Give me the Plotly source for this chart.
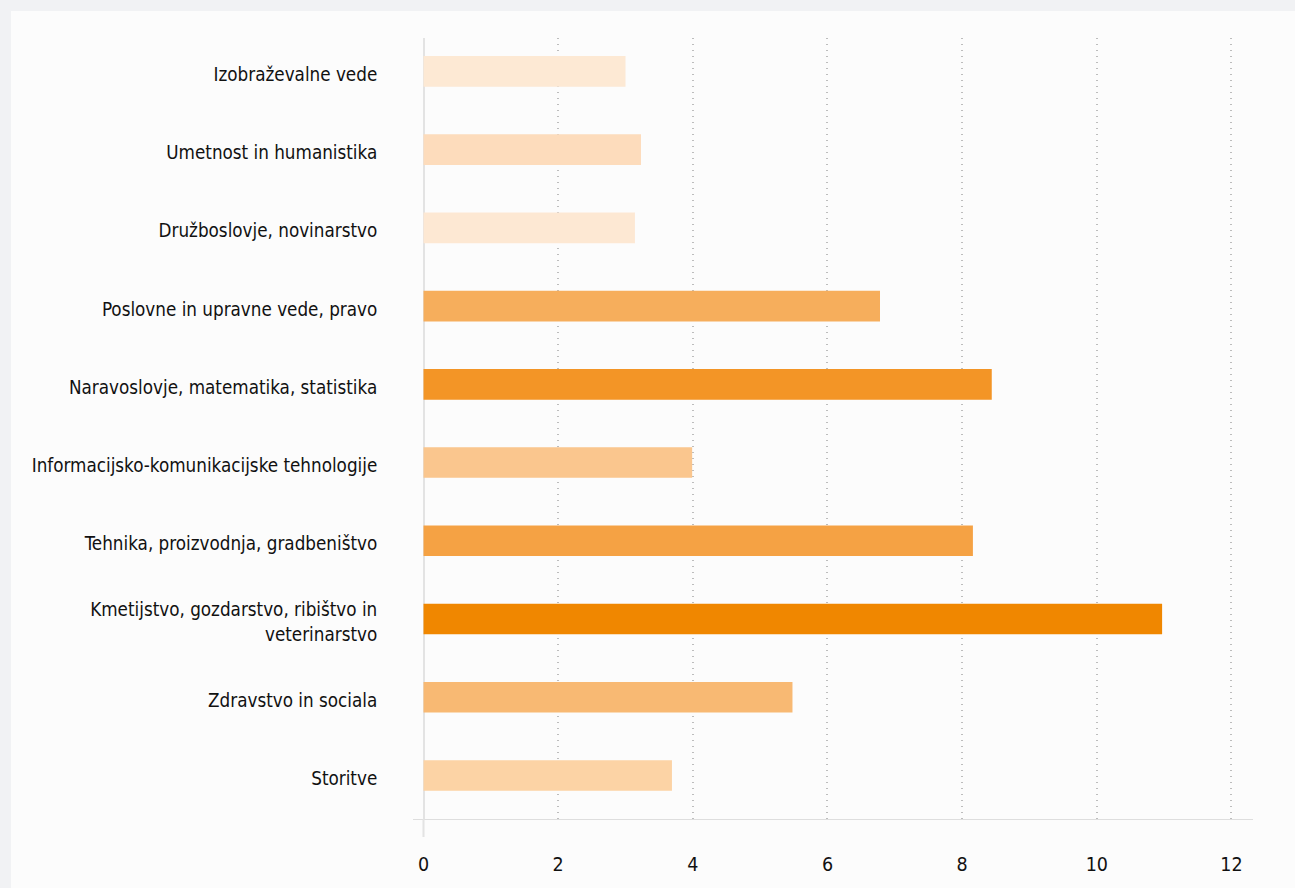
import plotly.graph_objects as go

categories = [
    "Izobraževalne vede",
    "Umetnost in humanistika",
    "Družboslovje, novinarstvo",
    "Poslovne in upravne vede, pravo",
    "Naravoslovje, matematika, statistika",
    "Informacijsko-komunikacijske tehnologije",
    "Tehnika, proizvodnja, gradbeništvo",
    "Kmetijstvo, gozdarstvo, ribištvo in<br>veterinarstvo",
    "Zdravstvo in sociala",
    "Storitve",
]
values = [3.0, 3.23, 3.14, 6.78, 8.44, 3.99, 8.16, 10.97, 5.48, 3.69]
x_ticks = [0, 2, 4, 6, 8, 10, 12]

bar_colors = [
    "#fde9d4", "#fddcbc", "#fde8d3", "#f6ae5c", "#f39526",
    "#fac68e", "#f5a244", "#f08700", "#f8b973", "#fcd3a5",
]

FONT = "DejaVu Sans Condensed, DejaVu Sans, sans-serif"
CARD = "#fcfcfc"
OUTER = "#f1f2f4"

fig = go.Figure(
    go.Bar(
        y=categories,
        x=values,
        orientation="h",
        marker=dict(color=bar_colors, line=dict(width=0)),
        width=0.392,
        hoverinfo="x+y",
    )
)

fig.update_layout(
    width=1295,
    height=888,
    margin=dict(l=413, r=42, t=38, b=69),
    paper_bgcolor=OUTER,
    plot_bgcolor=CARD,
    showlegend=False,
    font=dict(family=FONT, size=18.7, color="#111111"),
    shapes=[
        dict(
            type="rect", xref="paper", yref="paper",
            x0=(11 - 413) / 840, x1=1.2, y0=-0.3, y1=1 + (38 - 11) / 781,
            fillcolor=CARD, line=dict(width=0), layer="below",
        ),
        dict(
            type="line", xref="x", yref="paper",
            x0=0, x1=0, ysizemode="pixel", yanchor=0, y0=-18, y1=0,
            line=dict(color="#e3e3e3", width=2),
        ),
    ],
)

fig.update_xaxes(
    range=[-0.156, 12.32],
    tickvals=x_ticks,
    ticktext=[str(v) for v in x_ticks],
    showgrid=True,
    gridcolor="#bdbdbd",
    griddash="1px,5px",
    gridwidth=1.5,
    zeroline=True,
    zerolinecolor="#e3e3e3",
    zerolinewidth=2,
    showline=True,
    linecolor="#dedede",
    linewidth=1,
    ticks="outside",
    ticklen=28,
    tickcolor="rgba(0,0,0,0)",
    tickfont=dict(family=FONT, size=19.5, color="#111111"),
)

fig.update_yaxes(
    type="category",
    categoryorder="array",
    categoryarray=categories,
    range=[9.556, -0.426],
    showgrid=False,
    zeroline=False,
    showline=False,
    ticks="outside",
    ticklen=31,
    tickcolor="rgba(0,0,0,0)",
    ticklabelshift=-3,
    tickfont=dict(family=FONT, size=18.7, color="#111111"),
)

fig.write_html(
    "out.html",
    config={"displayModeBar": False},
    post_script="document.body.style.margin='0';document.body.style.background='%s';" % OUTER,
)
